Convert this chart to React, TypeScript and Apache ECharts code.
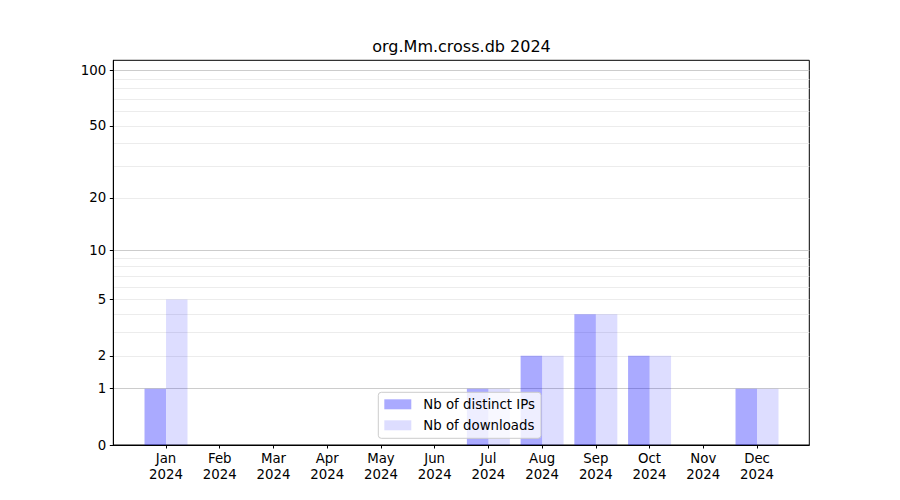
import React, { useEffect, useRef } from "react";
import * as echarts from "echarts";

const months = ["Jan", "Feb", "Mar", "Apr", "May", "Jun", "Jul", "Aug", "Sep", "Oct", "Nov", "Dec"];
const year = "2024";
const title = "org.Mm.cross.db 2024";
const distinctIPs = [1, 0, 0, 0, 0, 0, 1, 2, 4, 2, 0, 1];
const downloads = [5, 0, 0, 0, 0, 0, 1, 2, 4, 2, 0, 1];
const yLabelTicks = [0, 1, 2, 5, 10, 20, 50, 100];
const majorGrid = [1, 10, 100];
const minorGrid = [2, 3, 4, 5, 6, 7, 8, 9, 20, 30, 40, 50, 60, 70, 80, 90];
const seriesNames = ["Nb of distinct IPs", "Nb of downloads"];

const f = (v: number) => Math.log10(1 + v);
const Y_MAX = 2.0578;
const X_MIN = -0.981;
const X_MAX = 11.973;
const FONT = "DejaVu Sans";

export default function App() {
  const ref = useRef<HTMLDivElement>(null);
  useEffect(() => {
    document.body.style.margin = "0";
    const chart = echarts.init(ref.current!, null, { renderer: "svg" });
    const monthIdx = months.map((_, i) => i);
    const gridAxis = (vals: number[], color: string) => ({
      type: "value",
      position: "right",
      min: 0,
      max: Y_MAX,
      axisLine: { show: false, onZero: false },
      axisTick: { show: false, customValues: vals.map(f) },
      axisLabel: { show: false, customValues: vals.map(f) },
      splitLine: { show: true, lineStyle: { color, width: 1 } },
    });
    chart.setOption({
      animation: false,
      title: {
        text: title,
        left: 461.5,
        top: 46,
        padding: 0,
        textAlign: "center",
        textVerticalAlign: "middle",
        textStyle: { fontFamily: FONT, fontSize: 16, fontWeight: "normal", color: "#000" },
      },
      grid: {
        left: 113.3,
        right: 90.7,
        top: 60.3,
        bottom: 55,
        show: true,
        borderColor: "#000",
        borderWidth: 1,
        backgroundColor: "transparent",
      },
      legend: {
        orient: "vertical",
        left: 378.3,
        top: 392.3,
        padding: [4, 6, 5, 6],
        itemWidth: 27,
        itemHeight: 10,
        itemGap: 5,
        icon: "rect",
        backgroundColor: "rgba(255,255,255,0.8)",
        borderColor: "#cccccc",
        borderWidth: 1,
        borderRadius: 3,
        textStyle: { fontFamily: FONT, fontSize: 13.33, color: "#000", lineHeight: 16, padding: [0, 0, 0, 7] },
        data: seriesNames,
      },
      xAxis: {
        type: "value",
        min: X_MIN,
        max: X_MAX,
        axisLine: { show: true, onZero: false, lineStyle: { color: "#000", width: 1 } },
        axisTick: { show: true, length: 3.5, lineStyle: { color: "#000", width: 1 }, customValues: monthIdx },
        axisLabel: {
          customValues: monthIdx,
          formatter: (v: number) => `${months[Math.round(v)]}\n${year}`,
          fontFamily: FONT,
          fontSize: 13.33,
          color: "#000",
          lineHeight: 15.5,
          margin: 6,
        },
        splitLine: { show: false },
      },
      yAxis: [
        {
          type: "value",
          position: "left",
          min: 0,
          max: Y_MAX,
          axisLine: { show: true, onZero: false, lineStyle: { color: "#000", width: 1 } },
          axisTick: { show: true, length: 3.5, lineStyle: { color: "#000", width: 1 }, customValues: yLabelTicks.map(f) },
          axisLabel: {
            customValues: yLabelTicks.map(f),
            formatter: (v: number) => String(Math.round(Math.pow(10, v) - 1)),
            fontFamily: FONT,
            fontSize: 13.33,
            color: "#000",
            margin: 7,
          },
          splitLine: { show: false },
        },
        gridAxis(minorGrid, "#ececec"),
        gridAxis(majorGrid, "#cccccc"),
      ],
      series: [
        {
          name: seriesNames[0],
          type: "bar",
          yAxisIndex: 0,
          barWidth: 21.5,
          barGap: "0%",
          itemStyle: { color: "rgba(0,0,255,0.333)" },
          data: distinctIPs.map((v, i) => [i, f(v)]),
          z: 3,
        },
        {
          name: seriesNames[1],
          type: "bar",
          yAxisIndex: 0,
          barWidth: 21.5,
          barGap: "0%",
          itemStyle: { color: "rgba(0,0,255,0.133)" },
          data: downloads.map((v, i) => [i, f(v)]),
          z: 3,
        },
      ],
    });
    return () => chart.dispose();
  }, []);
  return <div ref={ref} style={{ width: 900, height: 500 }} />;
}
